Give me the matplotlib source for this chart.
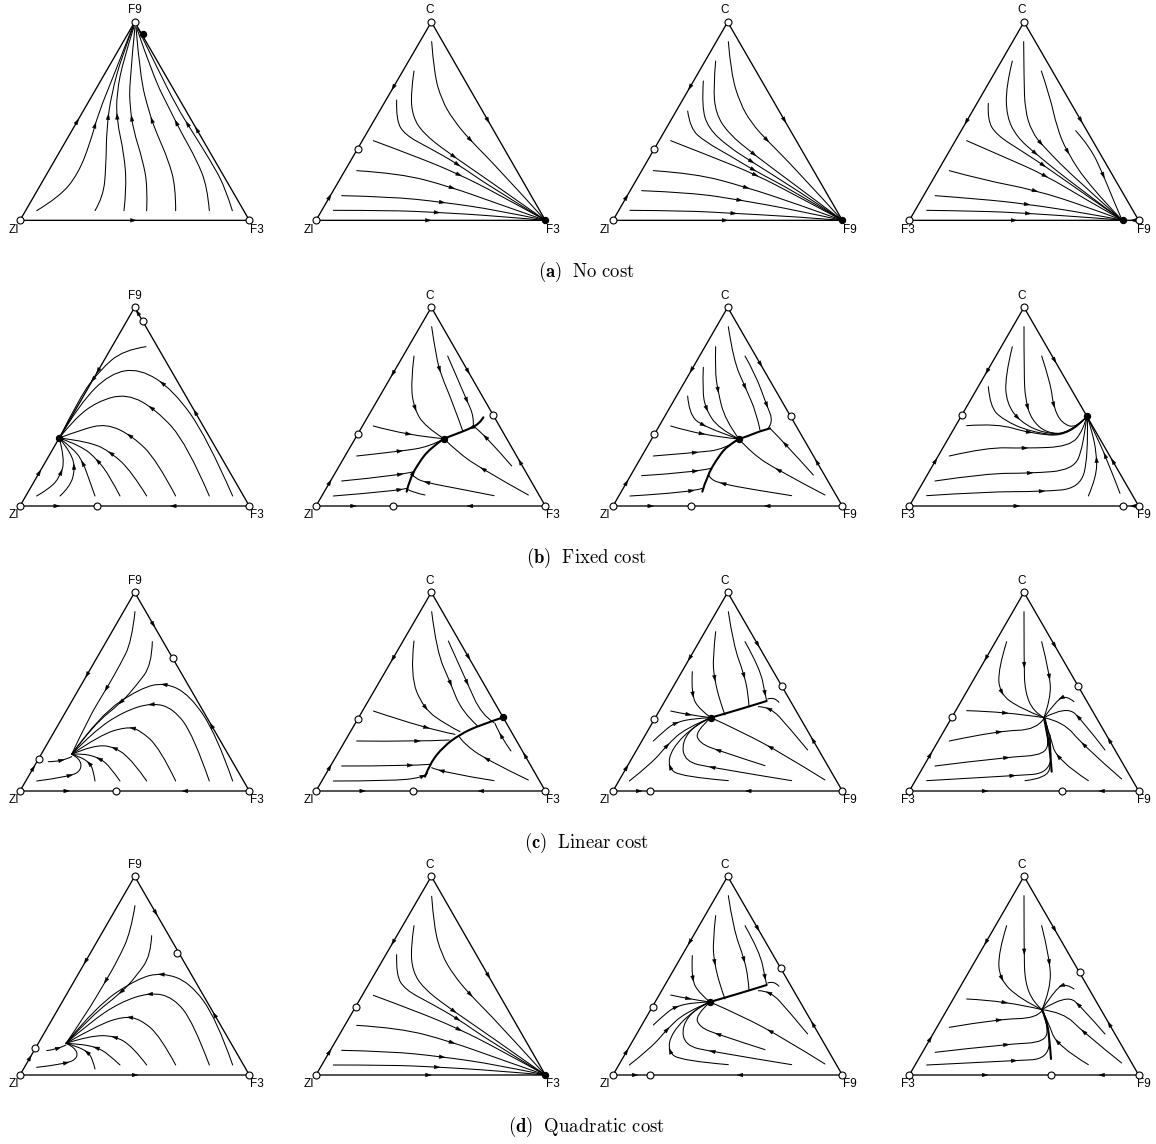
import numpy as np
import matplotlib.pyplot as plt
from matplotlib.path import Path
from matplotlib.patches import PathPatch, Polygon

plt.rcParams['mathtext.fontset'] = 'cm'

W, H = 1156, 1144
SCALE = 3.0   # panel frames use 3 units per output pixel, y pointing down

# ---------------------------------------------------------------- row (a)
A1 = dict(
    box=(0, 0, 290, 240),
    verts=[(60, 661), (748, 661), (404, 66)],
    labels=[('ZI', 42, 690), ('F3', 770, 690), ('F9', 404, 30)],
    hollow=[(60, 661), (748, 661), (404, 66)],
    solid=[(428, 103)],
    edge_arrows=[(232, 365, 2), (400, 661, 1), (593, 388, 2)],
    curves=[
        ([(110, 632), (180, 590), (235, 520), (270, 430), (295, 340), (340, 230), (398, 80)], (280, 375)),
        ([(285, 632), (310, 590), (318, 500), (320, 380), (335, 280), (365, 170), (400, 80)], (320, 350)),
        ([(372, 632), (380, 560), (372, 460), (350, 360), (350, 280), (370, 180), (402, 80)], (350, 350)),
        ([(440, 632), (443, 560), (428, 480), (400, 390), (390, 320), (388, 250), (405, 80)], (393, 355)),
        ([(527, 632), (527, 560), (505, 480), (470, 400), (448, 340), (420, 230), (408, 82)], (455, 360)),
        ([(628, 632), (622, 560), (590, 480), (545, 400), (510, 330), (460, 230), (410, 84)], (525, 370)),
        ([(697, 632), (675, 560), (630, 480), (580, 400), (530, 320), (470, 200), (414, 86)], (563, 372)),
    ],
)

A2 = dict(
    box=(290, 0, 290, 240),
    verts=[(78, 661), (766, 661), (424, 66)],
    labels=[('ZI', 58, 690), ('F3', 788, 690), ('C', 418, 30)],
    hollow=[(78, 661), (424, 66), (204, 446)],
    solid=[(766, 661)],
    edge_arrows=[(310, 262, 0), (120, 592, 2), (595, 360, 1), (415, 661, 1)],
    curves=[
        ([(425, 125), (432, 220), (455, 300), (490, 360), (540, 420), (620, 500), (766, 661)], (540, 420)),
        ([(372, 213), (362, 280), (368, 350), (400, 400), (470, 455), (580, 530), (766, 661)], (490, 470)),
        ([(320, 300), (318, 360), (345, 405), (420, 445), (500, 490), (600, 560), (766, 661)], (500, 496)),
        ([(250, 422), (380, 470), (505, 522), (620, 580), (766, 661)], (508, 522)),
        ([(200, 512), (330, 520), (480, 560), (620, 610), (766, 661)], (485, 562)),
        ([(155, 587), (300, 590), (455, 606), (620, 630), (766, 661)], (455, 607)),
        ([(130, 631), (300, 631), (440, 637), (620, 648), (766, 661)], (440, 637)),
    ],
)

A3 = dict(
    box=(585, 0, 290, 240),
    verts=[(84, 661), (772, 661), (428, 66)],
    labels=[('ZI', 60, 690), ('F9', 795, 690), ('C', 420, 30)],
    hollow=[(84, 661), (428, 66), (207, 446)],
    solid=[(772, 661)],
    edge_arrows=[(316, 262, 0), (124, 592, 2), (598, 360, 1), (420, 661, 1)],
    curves=[
        ([(430, 125), (438, 220), (465, 310), (500, 370), (545, 420), (630, 505), (772, 661)], (545, 420)),
        ([(392, 183), (385, 260), (392, 340), (430, 400), (505, 462), (610, 540), (772, 661)], (505, 462)),
        ([(355, 243), (350, 320), (370, 385), (430, 440), (500, 485), (620, 560), (772, 661)], (500, 485)),
        ([(308, 333), (315, 385), (360, 425), (440, 470), (505, 510), (620, 570), (772, 661)], (505, 510)),
        ([(257, 422), (380, 470), (513, 524), (630, 585), (772, 661)], (513, 524)),
        ([(205, 512), (330, 520), (485, 562), (630, 610), (772, 661)], (485, 562)),
        ([(170, 572), (320, 578), (465, 600), (630, 630), (772, 661)], (465, 600)),
        ([(135, 631), (300, 632), (445, 640), (630, 650), (772, 661)], (445, 640)),
    ],
)

A4 = dict(
    box=(870, 0, 286, 240),
    verts=[(118, 661), (806, 661), (462, 66)],
    labels=[('F3', 115, 690), ('F9', 822, 690), ('C', 455, 30)],
    hollow=[(118, 661), (806, 661), (462, 66)],
    solid=[(758, 661)],
    edge_arrows=[(290, 365, 0), (632, 360, 1), (432, 661, 1), (790, 661, 0)],
    curves=[
        ([(461, 125), (462, 240), (465, 330), (485, 395), (520, 440), (620, 540), (756, 660)], (510, 432)),
        ([(427, 183), (408, 260), (410, 350), (440, 410), (495, 460), (620, 560), (756, 660)], (495, 460)),
        ([(355, 310), (352, 360), (380, 405), (450, 450), (520, 495), (640, 580), (756, 660)], (520, 495)),
        ([(290, 422), (400, 470), (525, 525), (650, 600), (756, 660)], (525, 525)),
        ([(238, 512), (340, 540), (495, 570), (650, 620), (756, 660)], (495, 570)),
        ([(195, 587), (330, 597), (470, 612), (650, 640), (756, 660)], (470, 612)),
        ([(170, 631), (330, 633), (475, 640), (650, 652), (756, 660)], (475, 640)),
        ([(514, 213), (540, 290), (560, 380), (590, 455), (660, 560), (756, 660)], (590, 455)),
        ([(617, 392), (660, 440), (700, 525), (730, 600), (756, 660)], (700, 525)),
    ],
)

# ---------------------------------------------------------------- row (b)
B1 = dict(
    box=(0, 290, 290, 240),
    verts=[(60, 648), (748, 648), (404, 52)],
    labels=[('ZI', 42, 676), ('F3', 770, 676), ('F9', 404, 18)],
    hollow=[(60, 648), (748, 648), (404, 52), (428, 92), (290, 648)],
    solid=[(178, 444)],
    edge_arrows=[(118, 548, 2), (295, 243, 0), (587, 367, 2), (413, 68, 2), (170, 648, 1), (520, 648, 0)],
    curves=[
        ([(110, 618), (150, 595), (180, 560), (195, 510), (178, 444)], (185, 548)),
        ([(180, 618), (210, 590), (225, 540), (215, 490), (178, 444)], (225, 530)),
        ([(285, 618), (268, 570), (250, 520), (225, 480), (178, 444)], (250, 520)),
        ([(360, 618), (330, 560), (293, 510), (245, 468), (178, 444)], (293, 515)),
        ([(440, 618), (395, 545), (335, 488), (270, 455), (178, 444)], (335, 488)),
        ([(527, 618), (470, 510), (400, 440), (320, 400), (240, 420), (178, 444)], (390, 435)),
        ([(628, 618), (560, 460), (470, 360), (380, 310), (290, 335), (220, 390), (178, 444)], (455, 352)),
        ([(698, 618), (620, 440), (520, 300), (420, 235), (330, 250), (240, 340), (178, 444)], (487, 283)),
        ([(438, 170), (370, 180), (300, 240), (240, 320), (178, 444)], (297, 283)),
    ],
)

B2 = dict(
    box=(290, 290, 290, 240),
    verts=[(78, 648), (766, 648), (424, 52)],
    labels=[('ZI', 58, 676), ('F3', 788, 676), ('C', 418, 18)],
    hollow=[(78, 648), (766, 648), (424, 52), (204, 432), (610, 374), (310, 648)],
    solid=[(462, 446)],
    edge_arrows=[(308, 250, 0), (120, 578, 2), (535, 243, 1), (692, 515, 2), (190, 648, 1), (540, 648, 0)],
    thick=[
        ([(350, 605), (358, 570), (385, 520), (420, 475), (462, 446)], (372, 550)),
        ([(580, 382), (568, 402), (530, 420), (490, 435), (462, 446)], (545, 412)),
    ],
    curves=[
        ([(405, 615), (370, 608), (352, 598)], None),
        ([(425, 110), (438, 200), (455, 260), (485, 330), (518, 422)], (455, 235)),
        ([(473, 198), (500, 260), (530, 330), (552, 380), (550, 412)], (533, 330)),
        ([(372, 198), (362, 280), (372, 355), (405, 410), (462, 446)], (372, 355)),
        ([(250, 408), (355, 437), (462, 446)], (355, 437)),
        ([(200, 498), (330, 484), (420, 470), (462, 446)], (330, 484)),
        ([(155, 573), (330, 556), (372, 545)], (330, 556)),
        ([(130, 618), (330, 602), (350, 595)], (330, 602)),
        ([(612, 617), (500, 595), (410, 578), (375, 565), (365, 552)], (410, 578)),
        ([(715, 615), (580, 540), (500, 485), (462, 446)], (578, 540)),
        ([(665, 528), (590, 440), (555, 412)], (590, 440)),
    ],
)

B3 = dict(
    box=(585, 290, 290, 240),
    verts=[(84, 648), (772, 648), (428, 52)],
    labels=[('ZI', 60, 676), ('F9', 795, 676), ('C', 420, 18)],
    hollow=[(84, 648), (772, 648), (428, 52), (207, 432), (617, 377), (318, 648)],
    solid=[(462, 447)],
    edge_arrows=[(320, 240, 0), (124, 578, 2), (527, 222, 1), (697, 515, 2), (197, 648, 1), (547, 648, 0)],
    thick=[
        ([(352, 605), (365, 560), (400, 500), (430, 465), (462, 447)], None),
        ([(555, 415), (520, 425), (490, 438), (462, 447)], None),
    ],
    curves=[
        ([(430, 110), (445, 210), (480, 290), (515, 370), (525, 420)], (480, 290)),
        ([(480, 198), (510, 250), (545, 345), (565, 395), (550, 414)], (545, 345)),
        ([(392, 170), (390, 240), (398, 300), (420, 390), (462, 447)], (398, 300)),
        ([(355, 232), (352, 300), (362, 357), (400, 415), (462, 447)], (362, 357)),
        ([(308, 318), (312, 370), (352, 410), (462, 447)], (352, 410)),
        ([(257, 408), (352, 437), (462, 447)], (352, 437)),
        ([(205, 498), (330, 488), (420, 478), (462, 447)], (330, 488)),
        ([(170, 557), (330, 547), (378, 535)], (330, 547)),
        ([(135, 618), (320, 607), (352, 595)], (320, 607)),
        ([(620, 617), (500, 598), (415, 582), (375, 568), (370, 552)], (415, 582)),
        ([(720, 615), (580, 542), (500, 490), (462, 447)], (580, 542)),
        ([(685, 555), (600, 460), (555, 415)], (600, 460)),
    ],
)

B4 = dict(
    box=(870, 290, 286, 240),
    verts=[(118, 648), (806, 648), (462, 52)],
    labels=[('F3', 115, 676), ('F9', 822, 676), ('C', 455, 18)],
    hollow=[(118, 648), (806, 648), (462, 52), (276, 375), (758, 648)],
    solid=[(652, 378)],
    edge_arrows=[(350, 243, 0), (195, 512, 2), (555, 210, 1), (727, 515, 2), (440, 648, 1), (790, 648, 0)],
    curves=[
        ([(462, 110), (462, 250), (466, 330), (485, 390), (530, 430), (600, 430), (650, 380)], (475, 350)),
        ([(515, 198), (542, 280), (550, 350), (575, 400), (620, 415), (650, 380)], (548, 345)),
        ([(427, 170), (405, 260), (410, 340), (450, 395), (520, 430), (600, 432), (650, 380)], (443, 382)),
        ([(355, 290), (360, 350), (400, 390), (480, 425), (590, 440), (650, 380)], None),
        ([(290, 407), (380, 400), (480, 430), (600, 440), (650, 380)], (478, 428)),
        ([(238, 498), (350, 472), (465, 475), (600, 470), (640, 420), (650, 380)], (465, 475)),
        ([(195, 573), (350, 550), (480, 550), (610, 540), (640, 470), (650, 380)], (480, 550)),
        ([(170, 617), (350, 605), (515, 605), (630, 595), (655, 500), (652, 380)], (515, 605)),
        ([(655, 618), (680, 560), (680, 490), (665, 420), (652, 380)], (680, 510)),
        ([(750, 610), (708, 500), (670, 420), (652, 380)], (707, 497)),
    ],
)

# ---------------------------------------------------------------- row (c)
C1 = dict(
    box=(0, 575, 290, 240),
    verts=[(60, 648), (748, 648), (404, 52)],
    labels=[('ZI', 42, 676), ('F3', 770, 676), ('F9', 404, 18)],
    hollow=[(60, 648), (748, 648), (404, 52), (518, 250), (116, 552), (348, 648)],
    solid=[],
    edge_arrows=[(100, 580, 2), (262, 300, 0), (460, 148, 1), (635, 452, 2), (200, 648, 1), (555, 648, 0)],
    curves=[
        ([(405, 110), (395, 200), (360, 270), (320, 340), (265, 430), (215, 538)], (320, 340)),
        ([(457, 200), (455, 270), (410, 330), (365, 382), (280, 450), (215, 538)], (365, 382)),
        ([(698, 618), (650, 480), (570, 360), (495, 322), (420, 340), (300, 420), (215, 538)], (493, 322)),
        ([(628, 618), (580, 480), (520, 400), (455, 383), (370, 410), (280, 470), (215, 538)], (455, 383)),
        ([(527, 618), (480, 520), (420, 465), (380, 455), (300, 480), (215, 538)], (398, 458)),
        ([(440, 618), (400, 560), (345, 515), (280, 510), (215, 538)], (345, 515)),
        ([(360, 618), (330, 575), (300, 550), (250, 535), (215, 538)], (300, 550)),
        ([(285, 618), (280, 585), (268, 563), (240, 545), (215, 538)], (268, 565)),
        ([(110, 618), (210, 605), (245, 585), (240, 550), (215, 538)], (210, 606)),
        ([(145, 560), (185, 560), (215, 545)], (185, 560)),
    ],
)

C2 = dict(
    box=(290, 575, 290, 240),
    verts=[(78, 648), (766, 648), (424, 52)],
    labels=[('ZI', 58, 676), ('F3', 788, 676), ('C', 418, 18)],
    hollow=[(78, 648), (766, 648), (424, 52), (204, 432), (368, 648)],
    solid=[(640, 427)],
    edge_arrows=[(308, 250, 0), (120, 578, 2), (540, 243, 1), (708, 540, 2), (218, 648, 1), (573, 648, 0)],
    thick=[
        ([(405, 605), (420, 565), (460, 515), (510, 478), (570, 450), (640, 427)], None),
    ],
    curves=[
        ([(425, 110), (440, 230), (480, 320), (515, 410), (565, 455)], (482, 325)),
        ([(475, 198), (530, 320), (575, 420), (612, 443)], (530, 325)),
        ([(372, 198), (360, 300), (400, 400), (470, 450), (510, 470)], (402, 400)),
        ([(250, 408), (410, 462), (495, 478)], (410, 462)),
        ([(200, 498), (385, 500), (478, 495)], (385, 500)),
        ([(155, 573), (360, 573), (420, 568)], (360, 573)),
        ([(130, 618), (300, 618), (400, 608), (412, 595)], (400, 606)),
        ([(612, 617), (455, 592), (425, 578)], (455, 592)),
        ([(715, 615), (590, 555), (520, 505), (508, 485)], (590, 555)),
        ([(663, 528), (630, 482), (615, 445)], (630, 485)),
    ],
)

C3 = dict(
    box=(585, 575, 290, 240),
    verts=[(84, 648), (772, 648), (428, 52)],
    labels=[('ZI', 60, 676), ('F9', 795, 676), ('C', 420, 18)],
    hollow=[(84, 648), (772, 648), (428, 52), (207, 432), (592, 332), (196, 648)],
    solid=[(378, 428)],
    edge_arrows=[(316, 250, 0), (124, 578, 2), (518, 208, 1), (685, 495, 2), (162, 648, 1), (490, 648, 0)],
    thick=[
        ([(545, 378), (500, 392), (440, 410), (378, 428)], None),
    ],
    curves=[
        ([(582, 382), (568, 365), (548, 372)], None),
        ([(430, 110), (445, 210), (478, 300), (490, 360), (492, 395)], (480, 300)),
        ([(480, 200), (525, 280), (540, 355), (545, 378)], (540, 355)),
        ([(392, 170), (383, 250), (388, 310), (405, 380), (420, 420)], (388, 310)),
        ([(322, 290), (318, 360), (345, 405), (378, 428)], (318, 360)),
        ([(257, 408), (310, 420), (378, 428)], (310, 420)),
        ([(668, 525), (610, 455), (555, 395), (520, 395)], (555, 395)),
        ([(720, 615), (600, 540), (470, 470), (378, 428)], (550, 525)),
        ([(540, 572), (400, 527), (345, 505), (330, 470), (378, 428)], (400, 527)),
        ([(620, 617), (380, 578), (300, 560), (290, 500), (335, 445), (378, 428)], (380, 578)),
        ([(430, 617), (290, 605), (248, 578), (260, 520), (330, 450), (378, 428)], (250, 578)),
        ([(133, 618), (200, 565), (245, 512), (300, 460), (378, 428)], (245, 512)),
        ([(205, 498), (240, 465), (272, 442), (330, 430), (378, 428)], (272, 442)),
    ],
)

C4 = dict(
    box=(870, 575, 286, 240),
    verts=[(118, 648), (806, 648), (462, 52)],
    labels=[('F3', 115, 676), ('F9', 822, 676), ('C', 455, 18)],
    hollow=[(118, 648), (806, 648), (462, 52), (245, 425), (624, 332), (577, 648)],
    solid=[],
    edge_arrows=[(350, 250, 0), (180, 540, 2), (555, 210, 1), (720, 495, 2), (345, 648, 1), (695, 648, 0)],
    thick=[
        ([(545, 590), (540, 520), (530, 470), (522, 428)], None),
    ],
    curves=[
        ([(462, 110), (462, 268), (465, 350), (490, 410), (522, 428)], (462, 268)),
        ([(515, 200), (540, 300), (542, 370), (522, 428)], (540, 305)),
        ([(410, 200), (385, 280), (388, 355), (450, 400), (522, 428)], (388, 355)),
        ([(290, 407), (405, 410), (522, 428)], (405, 410)),
        ([(238, 498), (385, 467), (500, 465), (522, 430)], (385, 467)),
        ([(195, 573), (410, 546), (530, 540), (535, 480), (522, 428)], (410, 546)),
        ([(170, 617), (430, 602), (540, 595), (545, 500), (525, 430)], (430, 602)),
        ([(465, 617), (530, 610), (545, 560), (540, 480)], None),
        ([(612, 380), (590, 362), (560, 375), (522, 428)], (575, 370)),
        ([(705, 525), (640, 440), (590, 392), (522, 428)], (628, 425)),
        ([(755, 612), (640, 512), (580, 440), (522, 428)], (640, 512)),
        ([(655, 617), (560, 555), (540, 480), (522, 428)], (555, 552)),
    ],
)

# ---------------------------------------------------------------- row (d)
D1 = dict(
    box=(0, 859, 290, 240),
    verts=[(60, 648), (748, 648), (404, 52)],
    labels=[('ZI', 42, 676), ('F3', 770, 676), ('F9', 404, 18)],
    hollow=[(60, 648), (748, 648), (404, 52), (531, 282), (106, 568)],
    solid=[],
    edge_arrows=[(90, 597, 2), (262, 310, 0), (460, 165, 1), (640, 470, 2), (405, 648, 1)],
    curves=[
        ([(405, 140), (392, 220), (355, 300), (315, 370), (255, 470), (198, 553)], (318, 365)),
        ([(455, 230), (452, 290), (410, 350), (365, 400), (275, 470), (198, 553)], (365, 400)),
        ([(698, 618), (650, 480), (570, 370), (485, 340), (410, 360), (290, 440), (198, 553)], (485, 340)),
        ([(628, 618), (580, 490), (520, 415), (450, 400), (360, 430), (270, 490), (198, 553)], (450, 400)),
        ([(527, 618), (480, 530), (420, 480), (370, 472), (290, 500), (198, 553)], (390, 475)),
        ([(440, 618), (400, 565), (345, 530), (270, 530), (198, 553)], (345, 530)),
        ([(360, 618), (325, 585), (290, 565), (240, 555), (198, 553)], (290, 565)),
        ([(285, 630), (278, 600), (262, 578), (230, 562), (198, 553)], (262, 580)),
        ([(110, 625), (200, 615), (235, 595), (225, 565), (198, 553)], (200, 615)),
        ([(140, 575), (175, 570), (198, 558)], (175, 570)),
    ],
)

D2 = dict(
    box=(290, 859, 290, 240),
    verts=[(78, 648), (766, 648), (424, 52)],
    labels=[('ZI', 58, 676), ('F3', 788, 676), ('C', 418, 18)],
    hollow=[(78, 648), (424, 52), (198, 444)],
    solid=[(766, 648)],
    edge_arrows=[(310, 250, 0), (120, 580, 2), (595, 350, 1), (415, 648, 1)],
    curves=[
        ([(425, 112), (432, 207), (455, 287), (490, 347), (540, 407), (620, 487), (766, 648)], (540, 407)),
        ([(372, 200), (362, 267), (368, 337), (400, 387), (470, 442), (580, 517), (766, 648)], (490, 457)),
        ([(320, 287), (318, 347), (345, 392), (420, 432), (500, 477), (600, 547), (766, 648)], (500, 483)),
        ([(250, 409), (380, 457), (505, 509), (620, 567), (766, 648)], (508, 509)),
        ([(200, 499), (330, 507), (480, 547), (620, 597), (766, 648)], (485, 549)),
        ([(155, 574), (300, 577), (455, 593), (620, 617), (766, 648)], (455, 594)),
        ([(130, 618), (300, 618), (440, 624), (620, 635), (766, 648)], (440, 624)),
    ],
)

D3 = dict(
    box=(585, 859, 290, 240),
    verts=[(84, 648), (772, 648), (428, 52)],
    labels=[('ZI', 60, 676), ('F9', 795, 676), ('C', 420, 18)],
    hollow=[(84, 648), (772, 648), (428, 52), (204, 444), (588, 327), (195, 648)],
    solid=[(375, 429)],
    edge_arrows=[(316, 250, 0), (124, 578, 2), (518, 208, 1), (685, 495, 2), (150, 648, 1), (465, 648, 0)],
    thick=[
        ([(545, 378), (500, 392), (440, 410), (375, 429)], None),
    ],
    curves=[
        ([(582, 382), (568, 365), (548, 372)], None),
        ([(430, 110), (445, 210), (478, 300), (490, 360), (492, 395)], (480, 300)),
        ([(480, 200), (525, 280), (540, 355), (545, 378)], (540, 355)),
        ([(392, 170), (383, 250), (388, 310), (405, 380), (420, 420)], (388, 310)),
        ([(322, 290), (318, 360), (345, 405), (375, 429)], (318, 360)),
        ([(257, 408), (310, 420), (375, 429)], (310, 420)),
        ([(668, 525), (610, 455), (555, 395), (520, 395)], (555, 395)),
        ([(720, 615), (600, 540), (470, 470), (375, 429)], (550, 525)),
        ([(540, 572), (400, 527), (345, 505), (330, 470), (375, 429)], (400, 527)),
        ([(620, 617), (380, 578), (300, 560), (290, 500), (335, 445), (375, 429)], (380, 578)),
        ([(430, 617), (290, 605), (248, 578), (260, 520), (330, 450), (375, 429)], (250, 578)),
        ([(133, 618), (200, 565), (245, 512), (300, 460), (375, 429)], (245, 512)),
        ([(205, 498), (240, 465), (272, 442), (330, 430), (375, 429)], (272, 442)),
    ],
)

D4 = dict(
    box=(870, 859, 286, 240),
    verts=[(118, 648), (806, 648), (462, 52)],
    labels=[('F3', 115, 676), ('F9', 822, 676), ('C', 455, 18)],
    hollow=[(118, 648), (806, 648), (462, 52), (543, 648), (630, 339)],
    solid=[],
    edge_arrows=[(350, 250, 0), (180, 540, 2), (555, 210, 1), (720, 495, 2), (345, 648, 1), (695, 648, 0)],
    thick=[
        ([(543, 600), (538, 530), (528, 480), (516, 452)], None),
    ],
    curves=[
        ([(462, 110), (462, 280), (465, 370), (490, 430), (516, 452)], (462, 280)),
        ([(515, 200), (540, 300), (542, 390), (516, 452)], (540, 310)),
        ([(410, 200), (385, 280), (388, 360), (450, 420), (516, 452)], (388, 360)),
        ([(290, 420), (405, 425), (516, 452)], (405, 425)),
        ([(238, 505), (385, 480), (500, 478), (516, 455)], (385, 480)),
        ([(195, 580), (410, 555), (530, 550), (532, 490), (516, 452)], (410, 555)),
        ([(170, 618), (430, 605), (535, 600), (540, 510), (518, 455)], (430, 605)),
        ([(612, 390), (590, 375), (560, 385), (516, 452)], (575, 380)),
        ([(705, 525), (640, 450), (590, 405), (516, 452)], (628, 435)),
        ([(755, 612), (640, 520), (580, 460), (516, 452)], (640, 520)),
        ([(655, 617), (560, 560), (535, 490), (516, 452)], (555, 555)),
    ],
)

PANELS = [A1, A2, A3, A4, B1, B2, B3, B4, C1, C2, C3, C4, D1, D2, D3, D4]

CAPTIONS = [(r'$\mathbf{(a)}\ \ \mathrm{No\ cost}$', 272),
            (r'$\mathbf{(b)}\ \ \mathrm{Fixed\ cost}$', 558),
            (r'$\mathbf{(c)}\ \ \mathrm{Linear\ cost}$', 843),
            (r'$\mathbf{(d)}\ \ \mathrm{Quadratic\ cost}$', 1127)]


def pieces(pts):
    # quadratic bezier pieces (start, control, end) built on the listed points
    pts = np.asarray(pts, float)
    n = len(pts)
    if n == 2:
        return [(pts[0], (pts[0] + pts[1]) / 2, pts[1])]
    out, start = [], pts[0]
    for i in range(1, n - 1):
        end = pts[i + 1] if i == n - 2 else (pts[i] + pts[i + 1]) / 2
        out.append((start, pts[i], end))
        start = end
    return out


def curve_path(pts):
    segs = pieces(pts)
    verts, codes = [segs[0][0]], [Path.MOVETO]
    for a, c, b in segs:
        verts += [c, b]
        codes += [Path.CURVE3, Path.CURVE3]
    return Path(verts, codes)


def point_on(pts, near):
    t = np.linspace(0, 1, 41)[:, None]
    near = np.asarray(near, float)
    best = None
    for a, c, b in pieces(pts):
        p = (1 - t) ** 2 * a + 2 * t * (1 - t) * c + t ** 2 * b
        d = 2 * (1 - t) * (c - a) + 2 * t * (b - c)
        k = np.argmin(((p - near) ** 2).sum(1))
        dist = ((p[k] - near) ** 2).sum()
        if best is None or dist < best[0]:
            best = (dist, p[k], d[k])
    return best[1], best[2]


def head(ax, p, d, length=17, width=11):
    d = d / np.hypot(*d)
    n = np.array([-d[1], d[0]])
    tip = p + d * length / 2
    base = p - d * length / 2
    ax.add_patch(Polygon([tip, base + n * width / 2, base - n * width / 2], closed=True,
                         fc='k', ec='k', lw=0.3, zorder=4))


def on_edge(verts, p):
    best = None
    for i in range(3):
        a, b = verts[i], verts[(i + 1) % 3]
        s = np.clip(np.dot(p - a, b - a) / np.dot(b - a, b - a), 0, 1)
        q = a + s * (b - a)
        dist = np.hypot(*(q - p))
        if best is None or dist < best[0]:
            best = (dist, q)
    return best[1]


fig = plt.figure(figsize=(W / 100, H / 100), dpi=100)

for panel in PANELS:
    x0, y0, w, h = panel['box']
    ax = fig.add_axes([x0 / W, 1 - (y0 + h) / H, w / W, h / H])
    ax.set_xlim(0, w * SCALE)
    ax.set_ylim(h * SCALE, 0)
    ax.axis('off')
    ax.patch.set_visible(False)

    verts = np.array(panel['verts'], float)
    ax.add_patch(Polygon(verts, closed=True, fill=False, ec='k', lw=0.95, joinstyle='miter', zorder=2))

    for lw, group in ((0.75, panel['curves']), (1.5, panel.get('thick', []))):
        for pts, near in group:
            ax.add_patch(PathPatch(curve_path(pts), fc='none', ec='k', lw=lw, capstyle='round', zorder=3))
            if near is not None:
                p, d = point_on(pts, near)
                head(ax, p, d)

    for x, y, k in panel['edge_arrows']:
        p = on_edge(verts, np.array([x, y], float))
        head(ax, p, verts[k] - p)

    if panel['hollow']:
        hx, hy = zip(*panel['hollow'])
        ax.plot(hx, hy, 'o', ms=5, mfc='white', mec='k', mew=0.8, zorder=6, clip_on=False)
    if panel['solid']:
        sx, sy = zip(*panel['solid'])
        ax.plot(sx, sy, 'o', ms=4.5, mfc='k', mec='k', mew=0.8, zorder=6, clip_on=False)

    for s, x, y in panel['labels']:
        ax.text(x, y, s, ha='center', va='center', fontsize=8.5, family='Liberation Sans')

for text, y in CAPTIONS:
    fig.text(586 / W, 1 - y / H, text, ha='center', va='center', fontsize=13.5)

fig.savefig('out.png', dpi=100, facecolor='white')
